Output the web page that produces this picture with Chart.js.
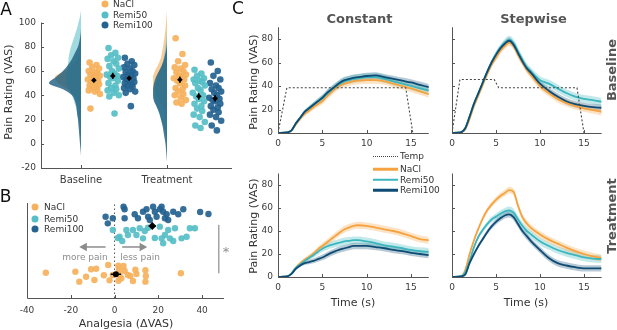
<!DOCTYPE html>
<html>
<head>
<meta charset="utf-8">
<script src="https://cdn.jsdelivr.net/npm/chart.js@4.4.1/dist/chart.umd.min.js"></script>
<style>
  body { margin: 0; background: #fff; }
  #fig { position: relative; width: 617px; height: 330px; overflow: hidden; font-family: 'DejaVu Sans', sans-serif; color: #333; }
  #fig canvas { position: absolute; }
  .t { position: absolute; white-space: nowrap; line-height: 1; }
  .c { transform: translate(-50%, -50%); }
  .l { transform: translateY(-50%); }
  .r { transform: translate(-50%, -50%) rotate(-90deg); }
  .dot { position: absolute; width: 7px; height: 7px; border-radius: 50%; transform: translate(-50%, -50%); }
  .key { position: absolute; left: 373px; width: 25px; height: 2.5px; transform: translateY(-50%); }
  .letter { font-size: 17px; color: #111; }
  .ttl { font-size: 13px; font-weight: bold; color: #555; }
</style>
</head>
<body>
<div id="fig">
  <canvas id="chartA" width="240" height="195" style="left:0;top:0"></canvas>
  <canvas id="chartB" width="232" height="135" style="left:0;top:195px"></canvas>
  <canvas id="chartCB" width="220" height="160" style="left:215px;top:0"></canvas>
  <canvas id="chartSB" width="177" height="160" style="left:440px;top:0"></canvas>
  <canvas id="chartCT" width="220" height="170" style="left:215px;top:160px"></canvas>
  <canvas id="chartST" width="177" height="170" style="left:440px;top:160px"></canvas>

  <div class="t c letter" style="left:6px;top:9px">A</div>
  <div class="t c letter" style="left:5.5px;top:196px">B</div>
  <div class="t c letter" style="left:238px;top:8px">C</div>

  <!-- panel A legend -->
  <div class="dot" style="left:105px;top:4px;background:#f6b15c"></div>
  <div class="t l" style="left:113px;top:4px;font-size:9px">NaCl</div>
  <div class="dot" style="left:105px;top:14.5px;background:#56bec6"></div>
  <div class="t l" style="left:113px;top:14.5px;font-size:9px">Remi50</div>
  <div class="dot" style="left:105px;top:25px;background:#24628f"></div>
  <div class="t l" style="left:113px;top:25px;font-size:9px">Remi100</div>
  <div class="t r" style="left:8px;top:92px;font-size:11px">Pain Rating (VAS)</div>

  <!-- panel B legend and notes -->
  <div class="dot" style="left:35px;top:207px;background:#f6b15c"></div>
  <div class="t l" style="left:44px;top:207px;font-size:9px">NaCl</div>
  <div class="dot" style="left:35px;top:218.5px;background:#56bec6"></div>
  <div class="t l" style="left:44px;top:218.5px;font-size:9px">Remi50</div>
  <div class="dot" style="left:35px;top:229px;background:#24628f"></div>
  <div class="t l" style="left:44px;top:229px;font-size:9px">Remi100</div>
  <div class="t c" style="left:85px;top:257px;font-size:9px;color:#8c8c8c">more pain</div>
  <div class="t c" style="left:140px;top:257px;font-size:9px;color:#8c8c8c">less pain</div>
  <div class="t c" style="left:226px;top:251px;font-size:13px;color:#8c8c8c">*</div>
  <div class="t c" style="left:126px;top:323px;font-size:11px">Analgesia (&Delta;VAS)</div>

  <!-- panel C labels -->
  <div class="t c ttl" style="left:359.5px;top:17.5px">Constant</div>
  <div class="t c ttl" style="left:533.5px;top:17.5px">Stepwise</div>
  <div class="t r ttl" style="left:611px;top:70px">Baseline</div>
  <div class="t r ttl" style="left:611px;top:216px">Treatment</div>
  <div class="t r" style="left:252.5px;top:82px;font-size:11px">Pain Rating (VAS)</div>
  <div class="t r" style="left:253px;top:226px;font-size:11px">Pain Rating (VAS)</div>
  <div class="t c" style="left:353px;top:302px;font-size:11px">Time (s)</div>
  <div class="t c" style="left:526px;top:302px;font-size:11px">Time (s)</div>

  <!-- panel C legend -->
  <div style="position:absolute;left:373px;top:155.5px;width:25px;border-top:1.2px dotted #444"></div>
  <div class="t l" style="left:400px;top:156px;font-size:9px">Temp</div>
  <div class="key" style="top:169px;background:#f5a340"></div>
  <div class="t l" style="left:400px;top:169px;font-size:9px">NaCl</div>
  <div class="key" style="top:179.5px;background:#3bb6be"></div>
  <div class="t l" style="left:400px;top:179.5px;font-size:9px">Remi50</div>
  <div class="key" style="top:190px;background:#0f4c75"></div>
  <div class="t l" style="left:400px;top:190px;font-size:9px">Remi100</div>
</div>

<script>
// ---- Panel A: pain ratings per subject ----
const baseNaCl = [67, 65, 63, 62, 60, 59, 58, 57, 56, 55, 54, 53, 52, 51, 50, 49, 48, 47, 46, 45, 44, 43, 41, 29, 57];
const baseRemi50 = [79, 75, 73, 71, 70, 68, 66, 64, 62, 60, 58, 57, 56, 55, 54, 52, 50, 48, 46, 45, 44, 42, 40, 39, 25];
const baseRemi100 = [71, 68, 66, 65, 63, 62, 60, 59, 58, 57, 56, 55, 54, 53, 52, 51, 50, 49, 48, 47, 46, 45, 43, 42, 31];
const treatNaCl = [87, 74, 68, 65, 63, 62, 60, 59, 57, 56, 55, 54, 53, 52, 50, 48, 46, 45, 43, 41, 40, 38, 36, 34, 33];
const treatRemi50 = [61, 58, 56, 54, 53, 52, 51, 50, 48, 46, 44, 42, 40, 39, 37, 35, 33, 31, 29, 27, 24, 22, 18, 15, 13];
const treatRemi100 = [67, 60, 56, 53, 50, 48, 46, 45, 43, 42, 40, 38, 37, 36, 35, 33, 31, 30, 28, 26, 24, 22, 19, 15, 11];

// half-violin widths (density) at each rating level
const violinLevels = [-15, -10, -5, 0, 5, 10, 15, 20, 25, 30, 35, 40, 45, 50, 55, 60, 65, 70, 75, 80, 85, 90, 95, 100, 105, 110];
const violinBaseNaCl = [0, 0, 0, 0, 0, 0.5, 0.8, 1, 1.5, 2, 3, 6, 13, 23, 26, 17, 9, 4, 2, 1, 0.5, 0, 0, 0, 0, 0];
const violinBaseRemi50 = [0, 0, 0, 0.3, 0.6, 1, 1.5, 2.5, 3.5, 5, 7, 9, 12, 15, 15, 14, 13, 12.5, 11.5, 10, 8, 6, 4, 2.5, 1, 0];
const violinBaseRemi100 = [0, 0, 0.5, 1, 1.5, 2, 2.5, 3, 4, 4.5, 6, 9, 18, 32, 25, 18, 13, 9, 6, 3, 1.5, 0.5, 0, 0, 0, 0];
const violinTreatNaCl = [0, 0, 0, 0, 0, 0.3, 0.6, 1, 2, 4, 7, 10, 13, 14, 14, 12, 9, 6.5, 5, 4, 3, 2.2, 1.5, 1, 0.5, 0];
const violinTreatRemi50 = [0, 0, 0.3, 0.6, 1, 2, 4, 6, 8, 10, 12, 13, 12, 11, 9, 7, 5, 3.5, 2.5, 1.5, 1, 0.5, 0, 0, 0, 0];
const violinTreatRemi100 = [0, 0.5, 1, 1.5, 2.5, 3.5, 4.5, 6, 7.5, 10, 13, 14, 14, 13, 11, 8, 5, 3, 1.5, 0.5, 0, 0, 0, 0, 0, 0];

const vasTicksA = [-20, 0, 20, 40, 60, 80, 100];

// ---- Panel B: analgesia (baseline - treatment) ----
const analgesiaNaCl = [-31.4, -17.9, -16.1, -13.0, -10.7, -8.4, -9.2, -4.9, -2.9, -0.8, 1.7, 2.0, 2.3, 4.1, 4.6, 6.1, 7.2, 8.4, 9.5, 10.0, 14.1, 14.3, 14.1, 30.3, 1.8, -2.3, 3.1];
const analgesiaRemi50 = [-0.8, 1.5, 2.3, 5.4, 6.1, 8.4, 10.0, 11.5, 13.0, 13.8, 15.3, 18.4, 20.7, 21.5, 22.2, 23.0, 24.5, 25.3, 26.8, 27.6, 30.6, 32.9, 34.4, 36.7, 3.5];
const analgesiaRemi100 = [-4.1, -3.1, -0.8, 4.1, 4.6, 4.6, 9.2, 10.7, 13.0, 14.6, 15.3, 16.1, 17.6, 18.4, 19.2, 20.7, 21.5, 22.2, 23.0, 23.8, 24.5, 26.8, 29.1, 31.4, 39.1, 42.9];
const analgesiaTicks = [-40, -20, 0, 20, 40];

// ---- Panel C: time courses ----
const tSec = [0, 1, 1.5, 2, 2.5, 3, 3.5, 4, 4.5, 5, 5.5, 6, 6.5, 7, 7.5, 8, 8.5, 9, 10, 11, 12, 13, 14, 15, 16, 17];
const constBaseNaCl = [0, 0.5, 2, 7, 12, 16, 19, 22, 24.5, 27, 31, 34.5, 38, 40.5, 42, 43, 44, 44.5, 45, 45, 44, 42, 40, 38, 35.5, 33];
const constBaseRemi50 = [0, 0.5, 2, 8, 13, 18, 21, 24, 27, 29.5, 33, 36.5, 39.5, 42, 44, 45, 46, 46.5, 47.5, 47.5, 46, 44, 42, 40, 38, 36];
const constBaseRemi100 = [0, 0.5, 2, 8, 13, 18, 21, 24, 27, 30, 34, 37, 40, 43, 45, 46, 47, 47.5, 48.5, 49, 47.5, 46, 44.5, 43, 41, 39];
const stepBaseNaCl = [0, 0.5, 3, 12, 23, 32, 41, 50, 58, 64, 70, 74, 77, 74, 66.5, 60, 54, 49, 40, 34, 29, 25.5, 23, 21, 19.5, 18];
const stepBaseRemi50 = [0, 0.5, 4, 14, 25, 34, 43, 52, 60, 67, 72.5, 77, 79.5, 76.5, 69.5, 62.5, 56, 52, 45, 42, 38, 34, 31, 29, 28, 26.5];
const stepBaseRemi100 = [0, 0.5, 4, 14, 25, 34, 43, 52, 60, 66.5, 72, 76, 78.5, 75, 68, 61, 55, 51, 42, 36, 31, 27, 24.5, 23, 22, 21.5];
const constTreatNaCl = [0, 0.5, 3, 8, 12, 15, 17.5, 20.5, 24, 27, 30, 33, 36, 39, 41.5, 43, 44.5, 45, 44.5, 43, 41.5, 40, 38, 35.5, 33, 32];
const constTreatRemi50 = [0, 0.5, 3, 8, 11, 14, 16.5, 19, 22, 24.5, 26.5, 28, 29, 30, 31, 31.5, 32, 32, 31, 29.5, 27.5, 26.5, 25, 23.5, 22.5, 22];
const constTreatRemi100 = [0, 0.5, 2.5, 7, 10, 12, 13, 14, 15.5, 17, 19, 21, 22.5, 24, 25, 26, 27, 27, 27, 26, 25, 23.5, 22.5, 21, 20, 19];
const stepTreatNaCl = [0, 0.5, 6, 20, 32, 42, 51, 58, 63, 67, 70.5, 73, 75.5, 74, 62, 52, 46.5, 42.5, 37, 32.5, 29, 25.5, 22.5, 20, 18, 16.5];
const stepTreatRemi50 = [0, 0.5, 4, 14, 26, 35, 41, 46, 50, 52.5, 55, 57, 58, 56, 50, 44.5, 40, 37, 31, 27, 23.5, 21, 19, 17, 16, 15.5];
const stepTreatRemi100 = [0, 0.5, 2, 12, 20, 27, 33, 39, 44, 48, 51, 53.5, 54.5, 52, 46, 40, 35.5, 31, 23.5, 16.5, 12, 10, 8.5, 7.5, 7.5, 7.5];
const semNaCl = [0, 0.2, 0.6, 1, 1.4, 1.7, 2, 2.2, 2.4, 2.6, 2.7, 2.8, 2.9, 3, 3, 3, 3, 3, 3, 3, 3, 3, 3, 3, 3, 3];
const semRemi50 = [0, 0.2, 0.6, 1, 1.4, 1.7, 2, 2.3, 2.6, 2.8, 3, 3.1, 3.2, 3.3, 3.3, 3.3, 3.3, 3.3, 3.3, 3.3, 3.3, 3.3, 3.3, 3.3, 3.3, 3.3];
const semRemi100 = [0, 0.2, 0.6, 1, 1.3, 1.6, 1.9, 2.1, 2.3, 2.5, 2.6, 2.7, 2.8, 2.8, 2.8, 2.8, 2.8, 2.8, 2.8, 2.8, 2.8, 2.8, 2.8, 2.8, 2.8, 2.8];
const tempConstT = [0, 1, 14.4, 15.2];
const tempConstV = [0, 38.5, 38.5, 0];
const tempStepT = [0, 0.9, 4.8, 5.3, 14.2, 15.0];
const tempStepV = [0, 45.5, 45.5, 38.5, 38.5, 0];
const timeTicks = [0, 5, 10, 15];
const vasTicksC = [0, 20, 40, 60, 80];

// ---- styles ----
const pointCol = ['rgba(246,177,92,0.92)', 'rgba(86,190,198,0.92)', 'rgba(36,98,143,0.92)'];
const violinCol = ['rgba(244,172,85,0.6)', 'rgba(110,200,206,0.65)', 'rgba(28,92,128,0.8)'];
const lineCol = ['#f5a340', '#3bb6be', '#0f4c75'];
const bandCol = ['rgba(245,163,64,0.3)', 'rgba(59,182,190,0.3)', 'rgba(15,76,117,0.3)'];
const axisCol = '#555';
const tickCol = '#3a3a3a';

Chart.defaults.font.family = "'DejaVu Sans', sans-serif";
Chart.defaults.animation = false;
Chart.defaults.responsive = false;
Chart.defaults.plugins.legend.display = false;
Chart.defaults.plugins.tooltip.enabled = false;

// MATLAB-like axes: lines on the left/bottom, ticks pointing inward
const axisDecor = {
  id: 'axisDecor',
  afterDraw(chart, args, opts) {
    const {ctx, chartArea: a} = chart;
    const xs = chart.scales.x, ys = chart.scales.y;
    const yTop = opts.yTop !== undefined ? ys.getPixelForValue(opts.yTop) : a.top;
    ctx.save();
    ctx.strokeStyle = axisCol;
    ctx.lineWidth = 1;
    ctx.beginPath();
    ctx.moveTo(a.left + 0.5, yTop);
    ctx.lineTo(a.left + 0.5, a.bottom + 0.5);
    ctx.lineTo(a.right, a.bottom + 0.5);
    ctx.stroke();
    ctx.beginPath();
    if (opts.xTicks) {
      for (const t of xs.ticks) {
        const p = Math.round(xs.getPixelForValue(t.value)) + 0.5;
        ctx.moveTo(p, a.bottom);
        ctx.lineTo(p, a.bottom - 3);
      }
    }
    if (opts.yTicks) {
      for (const t of ys.ticks) {
        const p = Math.round(ys.getPixelForValue(t.value)) + 0.5;
        ctx.moveTo(a.left, p);
        ctx.lineTo(a.left + 3, p);
      }
    }
    ctx.stroke();
    ctx.restore();
  }
};

const mean = arr => arr.reduce((s, v) => s + v, 0) / arr.length;
const sem = arr => {
  const m = mean(arr);
  return Math.sqrt(arr.reduce((s, v) => s + (v - m) * (v - m), 0) / (arr.length - 1) / arr.length);
};

// ---------- Panel A ----------
const jitter = [-0.05, 0.03, -0.02, 0.06, -0.06, 0.01, 0.04, -0.04, 0.07, -0.01, 0.02, -0.07, 0.05, -0.03, 0.0, 0.06, -0.05, 0.03, -0.02, 0.04, -0.06, 0.01, 0.07, -0.04, 0.02];
const groupOffset = [0.15, 0.37, 0.56];
const violinPx = 86; // pixels per category unit

const conditionsA = [
  {x: 1, points: [baseNaCl, baseRemi50, baseRemi100], violins: [violinBaseNaCl, violinBaseRemi50, violinBaseRemi100]},
  {x: 2, points: [treatNaCl, treatRemi50, treatRemi100], violins: [violinTreatNaCl, violinTreatRemi50, violinTreatRemi100]}
];

const dsA = [];
for (const cond of conditionsA) {
  cond.violins.forEach((w, g) => {
    dsA.push({
      type: 'line', indexAxis: 'y',
      data: violinLevels.map((v, i) => ({x: cond.x - w[i] / violinPx, y: v})),
      fill: {value: cond.x}, backgroundColor: violinCol[g],
      borderWidth: 0, pointRadius: 0, cubicInterpolationMode: 'monotone',
      clip: false, order: 4 - g
    });
  });
  cond.points.forEach((vals, g) => {
    const cx = cond.x + groupOffset[g];
    dsA.push({
      type: 'scatter',
      data: vals.map((v, i) => ({x: cx + jitter[i % jitter.length], y: v})),
      backgroundColor: pointCol[g], borderWidth: 0, pointRadius: 3.3, order: 1
    });
    const m = mean(vals), s = sem(vals);
    dsA.push({
      type: 'line', data: [{x: cx, y: m - s}, {x: cx, y: m + s}],
      borderColor: '#000', borderWidth: 1.3, pointRadius: 0, order: 0
    });
    dsA.push({
      type: 'scatter', data: [{x: cx, y: m}],
      pointStyle: 'rectRot', pointRadius: 2.8, backgroundColor: '#000', borderWidth: 0, order: 0
    });
  });
}

new Chart(document.getElementById('chartA'), {
  type: 'scatter',
  data: {datasets: dsA},
  options: {
    layout: {padding: {top: 3.33, right: 8, left: 0, bottom: 0}},
    scales: {
      x: {
        type: 'linear', min: 0.535, max: 2.756,
        afterBuildTicks: s => { s.ticks = [{value: 1}, {value: 2}]; },
        ticks: {callback: v => v === 1 ? 'Baseline' : 'Treatment', font: {size: 10}, color: tickCol, padding: 6, maxRotation: 0, autoSkip: false},
        grid: {display: false, drawTicks: false}, border: {display: false},
        afterFit: s => { s.height = 27; }
      },
      y: {
        type: 'linear', min: -20, max: 110,
        afterBuildTicks: s => { s.ticks = vasTicksA.map(v => ({value: v})); },
        ticks: {font: {size: 9}, color: tickCol, padding: 5},
        grid: {display: false, drawTicks: false}, border: {display: false},
        afterFit: s => { s.width = 41; }
      }
    },
    plugins: {axisDecor: {yTop: 100, xTicks: true, yTicks: true}}
  },
  plugins: [axisDecor]
});

// ---------- Panel B ----------
const rowNaClB = [2.66, 2.77, 1.72, 2.24, 3.02, 3.08, 1.89, 2.39, 3.47, 2.42, 3.4, 2.95, 2.42, 3.37, 2.87, 2.42, 2.32, 1.79, 2.98, 2.53, 2.92, 2.32, 1.72, 2.6, 1.82, 1.86, 2.07];
const rowRemi50B = [7.16, 6.32, 6.45, 7.16, 6.63, 7.16, 6.63, 7.34, 6.28, 7.05, 7.4, 6.32, 7.51, 6.28, 5.76, 6.63, 7.16, 6.28, 6.0, 7.34, 6.28, 6.45, 7.34, 7.34, 6.0];
const rowRemi100B = [8.56, 7.86, 8.39, 9.61, 9.34, 8.39, 8.81, 8.39, 9.08, 9.34, 8.56, 8.21, 9.61, 9.08, 8.56, 9.34, 9.61, 9.08, 8.39, 8.81, 8.21, 9.08, 8.81, 9.34, 9.05, 8.84];

const groupsB = [analgesiaNaCl, analgesiaRemi50, analgesiaRemi100];
const rowsB = [rowNaClB, rowRemi50B, rowRemi100B];
const remiAll = analgesiaRemi50.concat(analgesiaRemi100);

const dsB = [
  {type: 'line', data: [{x: 0, y: 0}, {x: 0, y: 10}], borderColor: axisCol, borderWidth: 1, borderDash: [1.5, 2.5], pointRadius: 0, order: 5},
  {type: 'line', data: [{x: -4.1, y: 5.37}, {x: -13.8, y: 5.37}], borderColor: '#8c8c8c', backgroundColor: '#8c8c8c', borderWidth: 1.5,
   pointRadius: [0, 3.5], pointStyle: 'triangle', pointRotation: -90, order: 4},
  {type: 'line', data: [{x: 3.5, y: 5.37}, {x: 12.6, y: 5.37}], borderColor: '#8c8c8c', backgroundColor: '#8c8c8c', borderWidth: 1.5,
   pointRadius: [0, 3.5], pointStyle: 'triangle', pointRotation: 90, order: 4},
  {type: 'line', data: [{x: 47.6, y: 2.6}, {x: 47.6, y: 7.7}], borderColor: '#a3a3a3', borderWidth: 1.5, pointRadius: 0, clip: false, order: 4}
];
groupsB.forEach((vals, g) => {
  dsB.push({
    type: 'scatter', data: vals.map((v, i) => ({x: v, y: rowsB[g][i]})),
    backgroundColor: pointCol[g], borderWidth: 0, pointRadius: 3.2, order: 2
  });
});
[[analgesiaNaCl, 2.5, 'circle', 3], [remiAll, 7.58, 'rectRot', 4]].forEach(([vals, row, style, r]) => {
  const m = mean(vals), s = sem(vals);
  dsB.push({type: 'line', data: [{x: m - s, y: row}, {x: m + s, y: row}], borderColor: '#000', borderWidth: 1.5, pointRadius: 0, order: 0});
  dsB.push({type: 'scatter', data: [{x: m, y: row}], pointStyle: style, pointRadius: r, backgroundColor: '#000', borderWidth: 0, order: 0});
});

new Chart(document.getElementById('chartB'), {
  type: 'scatter',
  data: {datasets: dsB},
  options: {
    layout: {padding: {top: 8, right: 8, left: 0, bottom: 0}},
    scales: {
      x: {
        type: 'linear', min: -40, max: 50,
        afterBuildTicks: s => { s.ticks = analgesiaTicks.map(v => ({value: v})); },
        ticks: {font: {size: 9}, color: tickCol, padding: 7},
        grid: {display: false, drawTicks: false}, border: {display: false},
        afterFit: s => { s.height = 32; }
      },
      y: {
        type: 'linear', min: 0, max: 10,
        ticks: {display: false},
        grid: {display: false, drawTicks: false}, border: {display: false},
        afterFit: s => { s.width = 27; }
      }
    },
    plugins: {axisDecor: {xTicks: true, yTicks: false}}
  },
  plugins: [axisDecor]
});

// ---------- Panel C ----------
const semsC = [semNaCl, semRemi50, semRemi100];

function timeChart(id, means, temp, box) {
  const ds = [];
  means.forEach((m, g) => {
    const s = semsC[g];
    ds.push({data: tSec.map((t, i) => ({x: t, y: m[i] - s[i]})), borderWidth: 0, pointRadius: 0, fill: false,
             cubicInterpolationMode: 'monotone', order: 10});
    ds.push({data: tSec.map((t, i) => ({x: t, y: m[i] + s[i]})), borderWidth: 0, pointRadius: 0, fill: '-1',
             backgroundColor: bandCol[g], cubicInterpolationMode: 'monotone', order: 10});
  });
  means.forEach((m, g) => {
    ds.push({data: tSec.map((t, i) => ({x: t, y: m[i]})), borderColor: lineCol[g], borderWidth: 1.8, pointRadius: 0,
             fill: false, cubicInterpolationMode: 'monotone', order: 3 - g});
  });
  if (temp) {
    ds.push({data: temp[0].map((t, i) => ({x: t, y: temp[1][i]})), borderColor: '#444', borderWidth: 1.1,
             borderDash: [2, 2], pointRadius: 0, fill: false, order: 0});
  }
  new Chart(document.getElementById(id), {
    type: 'line',
    data: {datasets: ds},
    options: {
      layout: {padding: {top: box.top, right: box.right, left: 0, bottom: 0}},
      scales: {
        x: {
          type: 'linear', min: 0, max: 17,
          afterBuildTicks: s => { s.ticks = timeTicks.map(v => ({value: v})); },
          ticks: {font: {size: 9}, color: tickCol, padding: 5},
          grid: {display: false, drawTicks: false}, border: {display: false},
          afterFit: s => { s.height = box.xh; }
        },
        y: {
          type: 'linear', min: 0, max: 90,
          afterBuildTicks: s => { s.ticks = vasTicksC.map(v => ({value: v})); },
          ticks: {display: box.yLabels, font: {size: 9}, color: tickCol, padding: 5},
          grid: {display: false, drawTicks: false}, border: {display: false},
          afterFit: s => { s.width = box.yw; }
        }
      },
      plugins: {axisDecor: {xTicks: true, yTicks: true}}
    },
    plugins: [axisDecor]
  });
}

timeChart('chartCB', [constBaseNaCl, constBaseRemi50, constBaseRemi100], [tempConstT, tempConstV],
  {top: 27.25, right: 6.2, xh: 27, yw: 63, yLabels: true});
timeChart('chartSB', [stepBaseNaCl, stepBaseRemi50, stepBaseRemi100], [tempStepT, tempStepV],
  {top: 27.25, right: 15.4, xh: 27, yw: 12, yLabels: false});
timeChart('chartCT', [constTreatNaCl, constTreatRemi50, constTreatRemi100], null,
  {top: 13.5, right: 6.2, xh: 53, yw: 63, yLabels: true});
timeChart('chartST', [stepTreatNaCl, stepTreatRemi50, stepTreatRemi100], null,
  {top: 13.5, right: 15.4, xh: 53, yw: 12, yLabels: false});
</script>
</body>
</html>
